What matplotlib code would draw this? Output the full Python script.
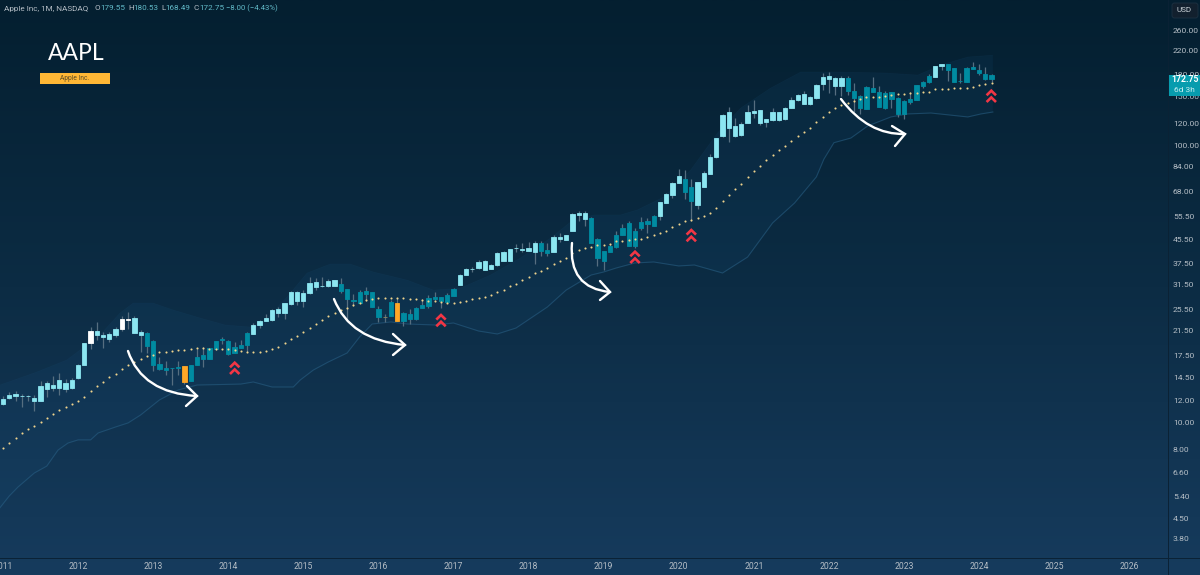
import numpy as np
import matplotlib
matplotlib.use("Agg")
import matplotlib.pyplot as plt
from matplotlib.path import Path
from matplotlib.patches import PathPatch, Rectangle, FancyBboxPatch
from matplotlib.colors import LinearSegmentedColormap

# ---------- data (monthly candles, Jan 2011 .. Mar 2024) ----------
opens = [11.65,12.2,12.65,12.48,12.5,12.2,11.95,13.2,13.3,13.35,13.25,13.3,
         14.42,16.15,19.3,21.36,20.66,19.99,20.6,21.78,23.66,23.8,20.66,21.07,
         19.66,16.24,15.5,15.65,15.7,15.97,14.14,16.1,17.5,16.94,18.4,19.83,
         19.7,17.74,18.5,19.0,20.78,22.4,23.14,23.4,25.57,24.87,26.7,29.5,
         27.4,29.2,32.2,31.1,31.1,32.63,31.57,30.28,27.64,27.03,29.87,29.54,
         25.6,24.07,24.2,26.95,23.28,24.6,23.54,25.87,26.3,27.95,28.26,27.26,
         28.65,31.3,34.0,35.6,35.9,38.2,35.75,36.95,41.16,38.2,42.45,42.1,
         42.45,41.3,44.5,41.86,41.06,46.7,45.5,49.2,56.75,56.75,54.45,45.9,
         38.2,41.3,43.0,47.4,52.2,43.3,50.4,53.3,51.1,55.6,61.8,66.1,
         73.2,75.7,70.6,60.8,70.8,78.9,90.3,107.5,132,117.2,108.4,120.4,
         132.7,133.4,123.8,122.8,131.2,124.2,135.6,145,152.8,141,147.4,166.5,
         177.9,174,163.7,174,156.7,150.3,134.9,161,155.8,135.7,155,147.5,
         129.5,146.6,145.4,163.3,168.4,176.5,192.9,195.5,189.1,170.7,169.3,188.1,
         186.6,180,179.55]
closes = [12.1,12.6,12.45,12.45,12.45,11.9,13.55,13.85,13.6,14.2,13.85,14.2,
          16.15,19.3,21.36,20.66,20.38,20.78,21.66,23.66,23.4,20.95,21.25,18.86,
          16.1,15.58,15.7,15.75,15.9,14.03,16.1,17.26,16.88,18.5,19.7,19.94,
          17.65,18.65,19.0,20.95,22.5,23.14,23.8,25.4,24.87,26.87,29.5,27.3,
          29.2,31.9,30.7,31.0,32.37,31.05,29.87,27.95,27.35,29.6,29.13,26.08,
          24.07,23.95,27.2,23.15,24.88,23.67,25.87,26.44,28.1,28.33,27.33,28.8,
          30.28,34.0,35.75,35.65,38.0,35.46,36.95,40.94,38.2,42.1,42.5,42.0,
          41.5,44.5,41.5,40.8,46.8,45.9,47.4,56.45,55.8,54.1,44.25,39.3,
          41.6,43.3,47.4,50.1,43.4,49.1,52.8,51.9,55.6,62.2,66.6,73.2,
          77.4,67.9,63.0,73.4,79.3,90.8,105.7,128.7,115.2,107.8,119.1,132,
          130.8,119.8,121.5,131.2,123.5,136.4,145.4,151.5,140.2,149.5,165.1,176.4,
          173.5,163.7,174,156.7,147.8,135.6,161.5,155.8,137.6,153.7,146.3,129.5,
          144.2,142.6,164.7,169.3,177.5,192.9,196.1,186.6,169.3,170.7,190.2,191.8,
          182.4,172.6,172.75]
highs = [12.45,12.87,12.95,12.67,12.6,12.55,14.05,14.1,14.7,15.05,14.3,14.45,
         16.3,19.4,22.1,22.96,21.1,21.2,22.1,24.2,25.0,24.2,21.5,21.25,
         19.8,17.26,16.66,15.75,16.6,15.97,16.1,18.35,18.65,18.5,19.7,20.3,
         19.75,19.5,19.8,21.25,22.9,23.4,24.6,25.55,26.0,27.0,29.75,29.75,
         30.0,33.4,33.1,33.4,33.0,32.63,33.1,30.4,29.0,30.1,30.7,29.54,
         26.3,24.6,27.6,28.2,25.0,25.6,26.1,27.95,28.81,29.54,28.26,29.4,
         30.6,34.2,36.1,36.45,38.5,38.5,37.4,41.2,41.4,42.1,44.0,44.2,
         44.9,45.0,45.0,44.5,47.4,48.0,47.4,56.8,57.9,57.9,54.9,46.2,
         41.6,44.0,49.1,51.94,53.4,50.1,54.9,54.5,55.95,62.5,67.0,73.5,
         81.8,81.3,75.7,73.6,80.6,92.5,106.2,129.4,137.6,124.9,120.7,139.5,
         145.4,133.8,124.2,136.4,131.7,137.2,149.4,152.8,156.7,150.8,165.8,181.4,
         182.9,176,178,178,167,151.7,163,176.4,163.7,156.5,155.5,149.5,
         145,155.8,165.2,170.5,180.5,193.6,196.5,196.2,189.6,182.4,190.9,199.9,
         196,190.7,180.53]
lows = [11.6,12.17,11.98,11.37,11.9,10.97,11.9,12.4,12.95,12.6,12.9,13.25,
        14.38,16.1,18.4,19.8,18.55,19.45,20.4,21.36,21.66,20.95,18.0,17.74,
        15.36,15.45,14.82,13.64,14.8,13.75,14.14,16.1,15.8,16.94,18.3,19.1,
        17.55,17.74,18.5,17.93,20.78,21.9,23.14,23.25,24.0,23.6,26.5,26.6,
        26.0,29.0,30.0,30.7,30.7,31.05,29.2,23.4,26.3,27.03,27.48,26.0,
        23.1,23.1,24.1,23.15,22.3,22.65,23.4,25.87,25.8,27.6,25.87,27.0,
        28.5,31.3,34.0,34.8,35.8,35.46,35.75,36.8,38.1,38.1,41.0,41.2,
        41.4,37.3,39.9,39.9,41.06,44.9,45.5,49.0,53.4,51.0,44.25,36.5,
        35.5,41.3,42.6,47.4,43.4,42.7,49.5,48.1,51.1,53.7,61.7,64.4,
        73.2,63.9,53.4,59.0,70.8,78.9,89.8,107.2,102.6,107.3,107.8,120,
        125.6,118,115.9,122.4,122.3,123.3,135.6,144.6,140.2,139.8,147,158,
        153.7,151.5,150.3,151.5,132,129,134.9,155.8,137.2,134.6,136.4,126,
        124,140.2,144.9,161.2,167.8,176.5,186.6,170.7,168.6,167,169.3,187.4,
        179,172.2,168.49]
# L light, T teal, W white, O orange, G olive doji
candle_kind = ("L"*14 + "W" + "L"*4 + "WW" + "LL" + "T"*6 + "O" + "T"*10 + "L"*14
               + "T"*7 + "G" + "T" + "O" + "T"*9 + "L"*13 + "TT" + "L"*6 + "T"*11
               + "L"*4 + "TT" + "L"*24 + "T"*14 + "LL" + "T"*8)
dots = [8.11,8.45,8.79,9.13,9.47,9.73,10.06,10.37,10.72,11.08,11.37,11.62,
        11.98,12.38,12.94,13.57,14.03,14.54,14.99,15.54,16.1,16.51,16.98,17.36,
        17.55,17.89,17.94,18.04,18.24,18.24,18.35,18.55,18.55,18.45,18.4,18.4,
        18.35,18.24,18.04,17.94,17.94,17.99,18.14,18.35,18.75,19.28,19.93,20.49,
        21.19,21.97,22.65,23.34,24.2,24.88,25.44,25.87,26.44,26.88,27.64,27.87,
        28.02,28.02,28.02,28.02,28.02,27.95,27.8,27.64,27.48,27.48,27.2,27.03,
        27.03,27.26,27.48,27.8,28.18,28.42,28.81,29.54,30.03,30.96,31.66,32.63,
        33.46,34.68,35.26,36.15,37.17,38.1,39.06,40.71,41.97,42.68,43.04,43.5,
        43.5,44,44.97,45.1,45.48,45.73,45.99,46.63,47.27,48.05,48.87,50.66,
        51.94,53.1,53.68,54.74,55.5,56.75,59.32,63.03,66.26,69.44,72.6,76.51,
        80.86,84.06,88.11,92.11,95.73,99.53,103.7,107.8,111.2,115.6,120.8,126.3,
        132,136.1,139.5,141.4,144.6,147,148.7,148.5,149.5,150.3,151.7,152.4,
        152.8,153.7,154.5,155,155.8,158.9,159.3,159.8,160.2,160.6,161,162.4,
        164.2,165.6,167.9]
lower_t = [-0.5,1,2.4,5,7,8.8,10.4,12,14,15.2,18,20,22,25,28,31,38,40,43,46.4,47.5,49.6,52,55,57,59,
           62,64.6,69,72,76,79,82,87,90,94,96,98,101,104,108,110.5,115,119,123,126.5,130,131.2,132.8,
           135.5,138.2,141.9,144.6,148.3,154.2,156.3,158.2]
lower_v = [4.92,5.43,5.85,6.57,6.96,7.95,8.43,8.65,8.65,9.16,9.63,9.96,10.64,12.05,13.09,13.64,13.75,13.99,
           13.42,13.42,14.22,15.45,16.52,17.8,20.33,22.64,23.03,22.64,22.46,22.83,21.36,20.84,21.9,26.07,
           30.0,34.0,34.87,36.04,37.58,37.89,36.66,36.95,34.58,39.47,52.4,61.8,76.8,89,102,106,117.2,126.3,
           129.5,130.5,126.3,129.5,131.6]
upper_t = [-0.5,5.4,10.2,15.5,18.7,20.8,24,27.2,31.5,35.5,39.5,41.6,45.4,48.6,52.3,55.5,59.2,64.6,68.8,73.1,
           77.9,82.7,87.5,90.7,94.4,98.7,101.4,105.6,109.9,114.2,117.9,122.7,127.5,132.8,140.8,146.2,149.9,
           154.2,158.2]
upper_v = [13.64,15.2,16.8,20.67,24.8,26.94,26.94,25.43,23.8,22.46,22.08,23.03,28.33,34.58,37.26,37.26,34.87,
           32.6,30.0,30.5,34.0,39.2,46.2,52.8,56,56,58.4,65,81.3,110.6,136,160.6,183.5,183.5,182,178.9,194.4,
           207.8,211]
years = [2011,2012,2013,2014,2015,2016,2017,2018,2019,2020,2021,2022,2023,2024,2025,2026]
price_ticks = [260,220,180,150,120,100,84,68,55.5,45.5,37.5,31.5,25.5,21.5,17.5,14.5,12,10,8,6.6,5.4,4.5,3.8]
# annotation drawing positions on the picture
curve_arrows = [((128,351),(142,393),(197,396),(187,386),(186,406)),
                ((334,299),(350,340),(405,345),(393,334),(393,355)),
                ((572,243),(568,288),(610,292),(600,281),(600,300)),
                ((841,99),(868,135),(905,134),(892,126),(895,146))]
chevrons = [(234.7,362.7),(441,315),(635,251.7),(691.3,230),(991.3,90.7)]

FONT = ["Roboto", "DejaVu Sans"]
W, H = 1200, 575
fig = plt.figure(figsize=(W/100, H/100), dpi=100)

# background gradient
bg = fig.add_axes([0,0,1,1], zorder=0); bg.axis("off")
cmap = LinearSegmentedColormap.from_list("bg", ["#041f30", "#0c2c44", "#163b5d"])
bg.imshow(np.linspace(0,1,256)[:,None], aspect="auto", cmap=cmap, extent=[0,1,0,1], origin="upper")

# main chart
PLOT_R, PLOT_B = 1168, 558
ax = fig.add_axes([0, 1-PLOT_B/H, PLOT_R/W, PLOT_B/H], zorder=1)
ax.patch.set_alpha(0)
ax.set_yscale("log")
pxm = 6.257
ax.set_xlim(-3/pxm, (PLOT_R-3)/pxm)
ax.set_ylim(260*np.exp(-(PLOT_B-30)/120.45), 260*np.exp(30/120.45))
for s in ax.spines.values():
    s.set_visible(False)

t = np.arange(len(opens))
# band
ax.fill(np.r_[upper_t, lower_t[::-1]], np.r_[upper_v, lower_v[::-1]],
        color="#1c5f94", alpha=0.10, lw=0, zorder=1)
ax.plot(lower_t, lower_v, color="#2a6288", lw=0.8, alpha=0.55, zorder=1.2)
ax.plot(upper_t, upper_v, color="#24597e", lw=0.5, alpha=0.10, zorder=1.2)

kinds = {"L":"#8ce6f1", "T":"#008ba1", "W":"#ffffff", "O":"#ffa726", "G":"#8f8a60"}
ax.vlines(t, lows, highs, color="#566e80", lw=0.9, zorder=2)
ob, cb = np.array(opens), np.array(closes)
ax.bar(t, np.abs(cb-ob), bottom=np.minimum(ob,cb), width=0.68,
       color=[kinds[k] for k in candle_kind], edgecolor=[kinds[k] for k in candle_kind],
       linewidth=0.6, zorder=3)
ax.scatter(t, dots, s=2.3, marker="o", color="#f0d48e", linewidths=0, zorder=4)

ax.set_xticks([(y-2011)*12 for y in years])
ax.set_xticklabels([str(y) for y in years], family=FONT, fontsize=6.2, color="#b4bdc5")
ax.set_yticks(price_ticks)
ax.set_yticklabels([f"{p:.2f}" for p in price_ticks], family=FONT, fontsize=6.1, color="#b4bdc5")
ax.yaxis.tick_right()
ax.minorticks_off()
ax.tick_params(axis="both", which="both", length=0)
ax.tick_params(axis="y", pad=3.5)
ax.tick_params(axis="x", pad=3)

# overlay in picture pixels for the hand-drawn annotations
ov = fig.add_axes([0,0,1,1], zorder=2); ov.axis("off"); ov.patch.set_alpha(0)
ov.set_xlim(0,W); ov.set_ylim(H,0)
ov.plot([PLOT_R,PLOT_R],[0,H], color="#0b2235", lw=0.7)
ov.plot([0,W],[PLOT_B,PLOT_B], color="#0b2235", lw=0.7)

for p0,c,p1,h1,h2 in curve_arrows:
    ov.add_patch(PathPatch(Path([p0,c,p1],[Path.MOVETO,Path.CURVE3,Path.CURVE3]),
                           fc="none", ec="white", lw=1.7, capstyle="round"))
    ov.plot([h1[0],p1[0],h2[0]],[h1[1],p1[1],h2[1]], color="white", lw=1.7,
            solid_capstyle="round", solid_joinstyle="miter")
for cx,cy in chevrons:
    for dy in (0,6.7):
        ov.plot([cx-4.7,cx,cx+4.7],[cy+4.6+dy,cy+dy,cy+4.6+dy], color="#f23645", lw=1.9,
                solid_capstyle="butt", solid_joinstyle="miter")

# header
ov.text(4, 8.5, "Apple Inc, 1M, NASDAQ", family=FONT, fontsize=5.9, color="#b4bdc5", va="center")
for lab,lx,val,vx in [("O",94.7,"179.55",100.7),("H",128,"180.53",133.7),
                      ("L",161.7,"168.49",165.7),("C",193,"172.75",199)]:
    ov.text(lx, 8.5, lab, family=FONT, fontsize=5.9, color="#b4bdc5", va="center")
    ov.text(vx, 8.5, val, family=FONT, fontsize=5.9, color="#62bac8", va="center")
ov.text(226, 8.5, "\u22128.00 (\u22124.43%)", family=FONT, fontsize=5.6, color="#62bac8", va="center")

ov.text(76, 54, "AAPL", family=["Lato","DejaVu Sans"], fontsize=16.5, color="white", ha="center", va="center")
ov.add_patch(Rectangle((40,73),70,11, fc="#ffb735", ec="none"))
ov.text(75, 78.6, "Apple Inc.", family=FONT, fontsize=4.8, color="#5a4a25", ha="center", va="center")

# right-hand badges
ov.add_patch(FancyBboxPatch((1172,3),26,15, boxstyle="round,pad=0,rounding_size=2.5", fc="#12202e", ec="#1d3242", lw=0.6))
ov.text(1184.5, 10.5, "USD", family=FONT, fontsize=5.9, color="#c8d0d6", ha="center", va="center")
ov.add_patch(Rectangle((1168,74.5),32,21, fc="#079cae", ec="none"))
ov.text(1185, 80, "172.75", family=FONT, fontsize=6.3, color="white", weight="bold", ha="center", va="center")
ov.text(1184, 90, "6d 3h", family=FONT, fontsize=6.0, color="#c9eef2", ha="center", va="center")

fig.savefig("out.png", dpi=100)
